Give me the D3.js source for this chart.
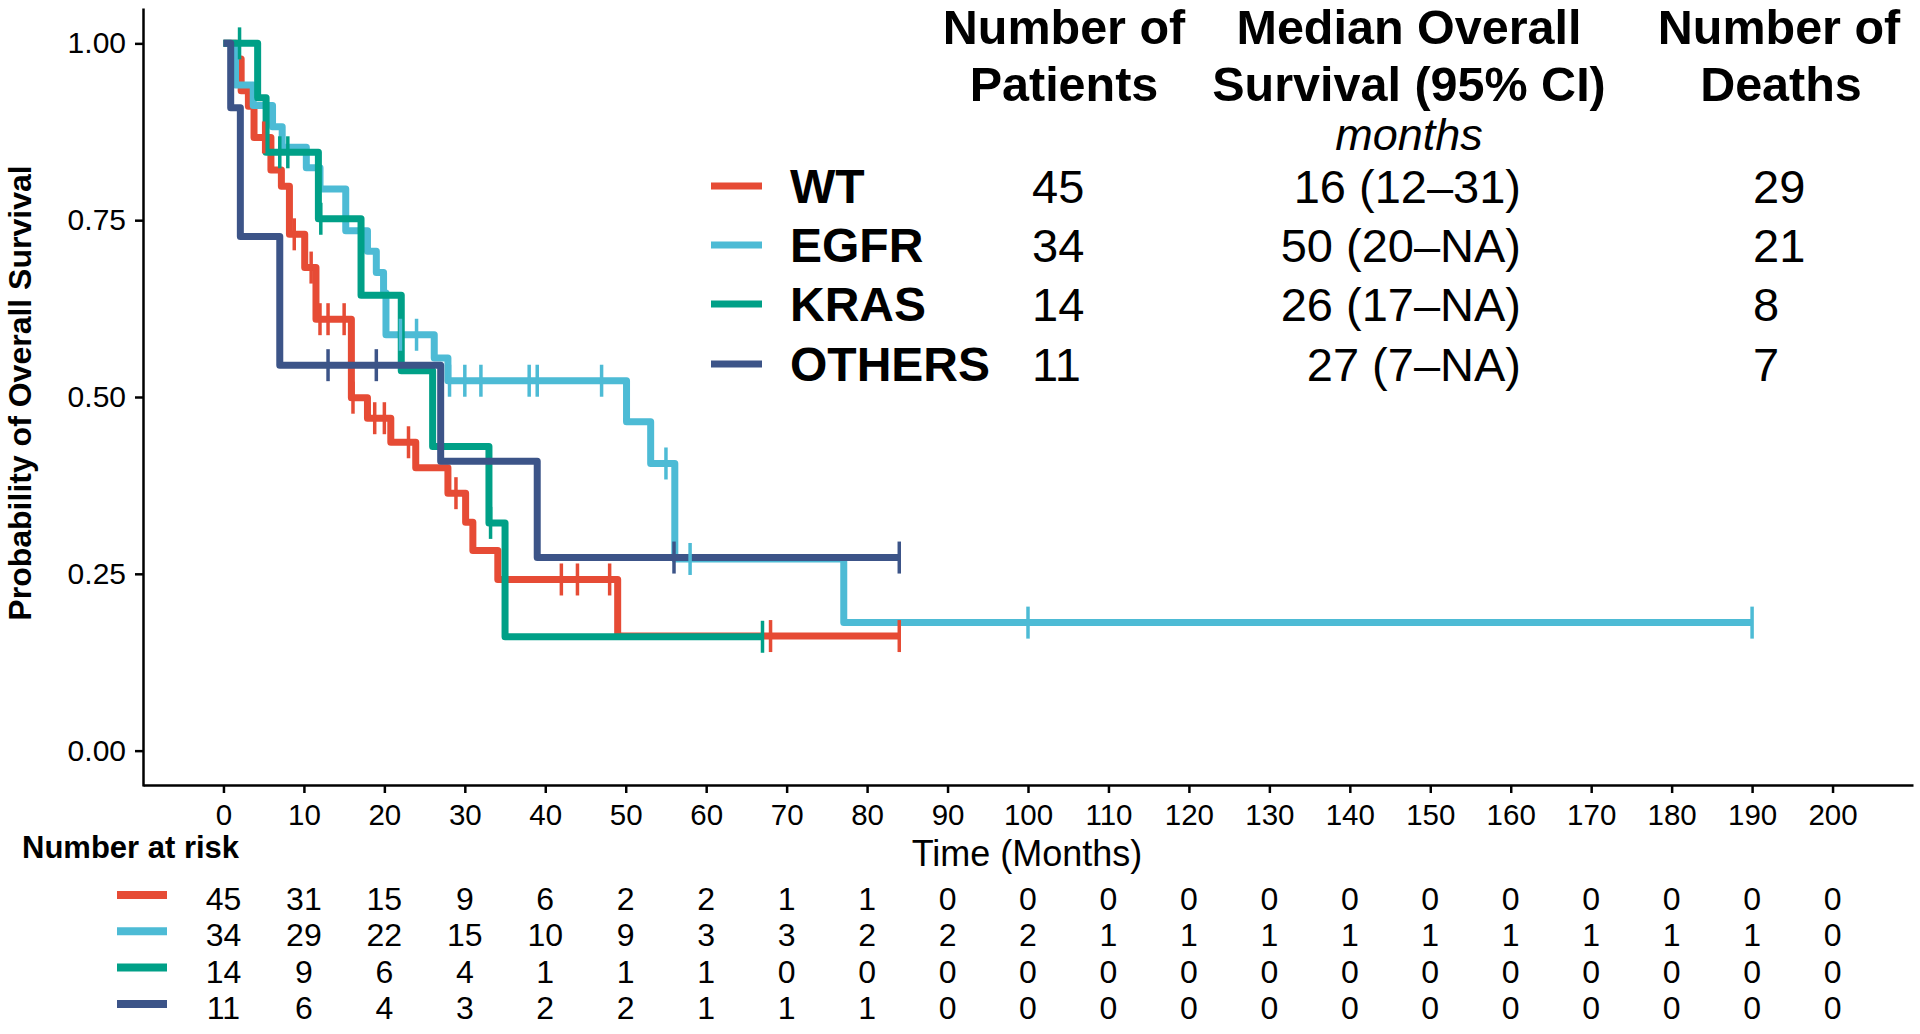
<!DOCTYPE html>
<html>
<head>
<meta charset="utf-8">
<script src="https://cdn.jsdelivr.net/npm/d3@7"></script>
<style>
  body { margin: 0; background: #fff; overflow: hidden; }
  text { font-family: "Liberation Sans", Arial, Helvetica, sans-serif; fill: #000; }
</style>
</head>
<body>
<div id="chart"></div>
<script>
// groups and their colours (npg palette)
var groups = ["WT", "EGFR", "KRAS", "OTHERS"];
var colors = ["#E64B35", "#4DBBD5", "#00A087", "#3C5488"];

// Kaplan-Meier steps: [month, survival]
var wtSteps = [[0, 1], [1.7, 0.978], [2.2, 0.933], [3.1, 0.911], [3.8, 0.867], [5.9, 0.821],
               [7.2, 0.798], [8.2, 0.730], [10.1, 0.683], [11.5, 0.610], [15.9, 0.499],
               [17.9, 0.470], [20.8, 0.436], [23.9, 0.400], [27.9, 0.364], [30.1, 0.323],
               [31, 0.283], [34.1, 0.242], [49, 0.162]];
var egfrSteps = [[0, 1], [1.5, 0.941], [3.7, 0.912], [6.1, 0.882], [7.3, 0.853], [10.3, 0.824],
                 [12, 0.794], [15.2, 0.735], [17.9, 0.706], [19, 0.676], [19.9, 0.647],
                 [20.2, 0.588], [26.2, 0.555], [27.9, 0.523], [50.1, 0.465], [53.1, 0.406],
                 [56.1, 0.271], [77.1, 0.181]];
var krasSteps = [[0, 1], [4.25, 0.923], [5.3, 0.846], [11.8, 0.752], [17.1, 0.644],
                 [22.1, 0.537], [26, 0.430], [33, 0.322], [35, 0.161]];
var othersSteps = [[0, 1], [0.9, 0.909], [2.1, 0.727], [7, 0.545], [27, 0.409], [39, 0.273]];

// last follow-up time of each curve
var endTimes = [84, 190, 67, 84];

// censoring times (months)
var wtCensor = [5, 8.8, 10.9, 12, 13, 15, 16.1, 18.8, 20, 23, 28.9, 42, 44, 48, 68, 84];
var egfrCensor = [22, 24, 28.1, 30, 32, 38, 39, 47, 55, 58, 100, 190];
var krasCensor = [2, 7, 8, 12.1, 33.2, 67];
var othersCensor = [13, 19, 56, 84];

var timeTicks = [0, 10, 20, 30, 40, 50, 60, 70, 80, 90, 100, 110, 120, 130, 140, 150, 160, 170, 180, 190, 200];
var probTicks = [0, 0.25, 0.5, 0.75, 1];

// number at risk
var riskWT     = [45, 31, 15, 9, 6, 2, 2, 1, 1, 0, 0, 0, 0, 0, 0, 0, 0, 0, 0, 0, 0];
var riskEGFR   = [34, 29, 22, 15, 10, 9, 3, 3, 2, 2, 2, 1, 1, 1, 1, 1, 1, 1, 1, 1, 0];
var riskKRAS   = [14, 9, 6, 4, 1, 1, 1, 0, 0, 0, 0, 0, 0, 0, 0, 0, 0, 0, 0, 0, 0];
var riskOTHERS = [11, 6, 4, 3, 2, 2, 1, 1, 1, 0, 0, 0, 0, 0, 0, 0, 0, 0, 0, 0, 0];

// summary table
var nPatients = [45, 34, 14, 11];
var medianOS = ["16 (12\u201331)", "50 (20\u2013NA)", "26 (17\u2013NA)", "27 (7\u2013NA)"];
var nDeaths = [29, 21, 8, 7];

var allSteps = [wtSteps, egfrSteps, krasSteps, othersSteps];
var allCensor = [wtCensor, egfrCensor, krasCensor, othersCensor];
var allRisk = [riskWT, riskEGFR, riskKRAS, riskOTHERS];

var W = 1920, H = 1034;
var svg = d3.select("#chart").append("svg")
    .attr("width", W)
    .attr("height", H);

var x = d3.scaleLinear().domain([-10, 210]).range([143, 1913]);
var y = d3.scaleLinear().domain([-0.05, 1.05]).range([786, 8]);

// axes
var xAxis = svg.append("g")
    .attr("transform", "translate(0,785)")
    .call(d3.axisBottom(x).tickValues(timeTicks).tickSize(8).tickSizeOuter(0));
xAxis.selectAll("text").attr("y", 19).style("font-size", "29.5px");

var yAxis = svg.append("g")
    .attr("transform", "translate(143,0)")
    .call(d3.axisLeft(y).tickValues(probTicks).tickFormat(d3.format(".2f")).tickSize(8).tickSizeOuter(0));
yAxis.selectAll("text").attr("x", -17).style("font-size", "30px");

svg.selectAll(".domain, .tick line").attr("stroke", "#000").attr("stroke-width", 2.5);

// axis titles
svg.append("text")
    .attr("transform", "translate(31," + 393 + ") rotate(-90)")
    .attr("text-anchor", "middle")
    .style("font-size", "32px")
    .style("font-weight", "bold")
    .text("Probability of Overall Survival");

svg.append("text")
    .attr("x", 1027)
    .attr("y", 866)
    .attr("text-anchor", "middle")
    .style("font-size", "36px")
    .text("Time (Months)");

// survival curves
function survAt(steps, t) {
    var s = steps[0][1];
    for (var i = 0; i < steps.length; i++) {
        if (steps[i][0] <= t) s = steps[i][1];
    }
    return s;
}

var line = d3.line()
    .x(function(d) { return x(d[0]); })
    .y(function(d) { return y(d[1]); })
    .curve(d3.curveStepAfter);

allSteps.forEach(function(steps, i) {
    var pts = steps.concat([[endTimes[i], steps[steps.length - 1][1]]]);
    svg.append("path")
        .datum(pts)
        .attr("d", line)
        .attr("fill", "none")
        .attr("stroke", colors[i])
        .attr("stroke-width", 7)
        .attr("stroke-linejoin", "round");
});

// censor marks
allCensor.forEach(function(times, i) {
    svg.append("g").selectAll("line")
        .data(times)
        .enter()
        .append("line")
        .attr("x1", function(d) { return x(d); })
        .attr("x2", function(d) { return x(d); })
        .attr("y1", function(d) { return y(survAt(allSteps[i], d)) - 16; })
        .attr("y2", function(d) { return y(survAt(allSteps[i], d)) + 16; })
        .attr("stroke", colors[i])
        .attr("stroke-width", 3.5);
});

// summary table in the top right
var boldFont = "48.5px";
var valFont = "47px";
function headText(tx, ty, str, bold, italic) {
    svg.append("text")
        .attr("x", tx)
        .attr("y", ty)
        .attr("text-anchor", "middle")
        .style("font-size", bold ? boldFont : "45px")
        .style("font-weight", bold ? "bold" : "normal")
        .style("font-style", italic ? "italic" : "normal")
        .text(str);
}
headText(1064, 44, "Number of", true);
headText(1064, 101, "Patients", true);
headText(1409, 44, "Median Overall", true);
headText(1409, 101, "Survival (95% CI)", true);
headText(1409, 150, "months", false, true);
headText(1779, 44, "Number of", true);
headText(1781, 101, "Deaths", true);

var rowBase = [203, 262, 321, 381];
groups.forEach(function(g, i) {
    svg.append("line")
        .attr("x1", 711).attr("x2", 762)
        .attr("y1", rowBase[i] - 17).attr("y2", rowBase[i] - 17)
        .attr("stroke", colors[i])
        .attr("stroke-width", 7);
    svg.append("text")
        .attr("x", 790).attr("y", rowBase[i])
        .style("font-size", "48px")
        .style("font-weight", "bold")
        .text(g);
    svg.append("text")
        .attr("x", 1032).attr("y", rowBase[i])
        .style("font-size", valFont)
        .text(nPatients[i]);
    svg.append("text")
        .attr("x", 1521).attr("y", rowBase[i])
        .attr("text-anchor", "end")
        .style("font-size", valFont)
        .text(medianOS[i]);
    svg.append("text")
        .attr("x", 1753).attr("y", rowBase[i])
        .style("font-size", valFont)
        .text(nDeaths[i]);
});

// number at risk table
svg.append("text")
    .attr("x", 22)
    .attr("y", 858)
    .style("font-size", "31px")
    .style("font-weight", "bold")
    .text("Number at risk");

allRisk.forEach(function(vals, i) {
    var by = 910 + i * 36.3;
    svg.append("line")
        .attr("x1", 117).attr("x2", 167)
        .attr("y1", by - 15).attr("y2", by - 15)
        .attr("stroke", colors[i])
        .attr("stroke-width", 8);
    svg.append("g").selectAll("text")
        .data(vals)
        .enter()
        .append("text")
        .attr("x", function(d, j) { return x(timeTicks[j]); })
        .attr("y", by)
        .attr("text-anchor", "middle")
        .style("font-size", "32px")
        .text(function(d) { return d; });
});
</script>
</body>
</html>
